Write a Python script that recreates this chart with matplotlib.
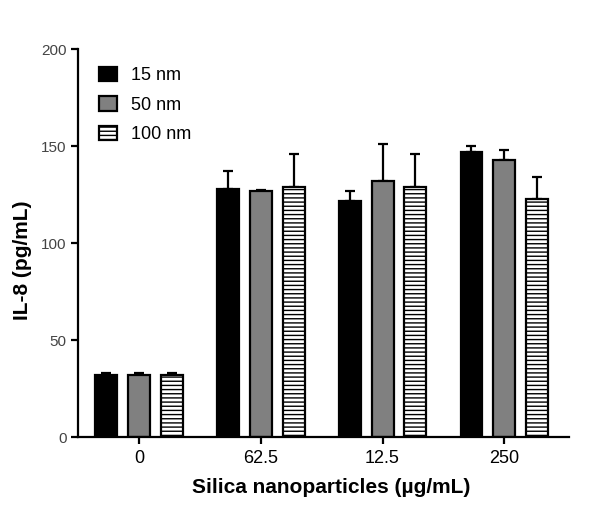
import numpy as np
import matplotlib
matplotlib.use("Agg")
import matplotlib.pyplot as plt

plt.rcParams['font.family'] = ['Liberation Sans', 'DejaVu Sans']
plt.rcParams['hatch.linewidth'] = 1.0

# data
doses = ["0", "62.5", "12.5", "250"]
sizes = ["15 nm", "50 nm", "100 nm"]
il8_15 = [32, 128, 122, 147]
il8_50 = [32, 127, 132, 143]
il8_100 = [32, 129, 129, 123]
err_15 = [1, 9, 5, 3]
err_50 = [1, 0.5, 19, 5]
err_100 = [1, 17, 17, 11]

means = [il8_15, il8_50, il8_100]
errs = [err_15, err_50, err_100]
faces = ["black", "#808080", "white"]
hatches = [None, None, "----"]

fig = plt.figure(figsize=(6.04, 5.12), dpi=100)
ax = fig.add_axes([0.129, 0.146, 0.813, 0.758])

x = np.arange(len(doses))
w = 0.18
step = 0.27
for i in range(3):
    pos = x + (i - 1) * step
    ax.bar(pos, means[i], width=w, color=faces[i], edgecolor="black",
           linewidth=1.6, hatch=hatches[i], label=sizes[i], zorder=2)
    ax.errorbar(pos, means[i], yerr=[np.zeros(len(doses)), errs[i]], fmt="none",
                ecolor="black", elinewidth=1.6, capsize=3.8, capthick=1.6, zorder=1)

ax.set_xlim(-0.5, 3.53)
ax.set_ylim(0, 200)
ax.set_yticks([0, 50, 100, 150, 200])
ax.set_xticks(x)
ax.set_xticklabels(doses)
for s in ["top", "right"]:
    ax.spines[s].set_visible(False)
for s in ["left", "bottom"]:
    ax.spines[s].set_linewidth(1.6)
ax.tick_params(axis="both", direction="out", length=5, width=1.6)
ax.tick_params(axis="y", labelsize=11, labelcolor="#444444", pad=3)
ax.tick_params(axis="x", labelsize=13, labelcolor="black", pad=4)
ax.set_ylabel("IL-8 (pg/mL)", fontsize=15, fontweight="bold")
ax.set_xlabel("Silica nanoparticles (\u00b5g/mL)", fontsize=15, fontweight="bold")
ax.yaxis.set_label_coords(-0.094, 0.455)
ax.xaxis.set_label_coords(0.516, -0.105)

ax.legend(loc="upper left", bbox_to_anchor=(99 / 604, 1 - 67 / 512),
          bbox_transform=fig.transFigure, frameon=False, fontsize=13,
          handlelength=1.0, handleheight=0.85, handletextpad=0.75,
          labelspacing=0.66, borderpad=0, borderaxespad=0)

fig.savefig("out.png", dpi=100)
